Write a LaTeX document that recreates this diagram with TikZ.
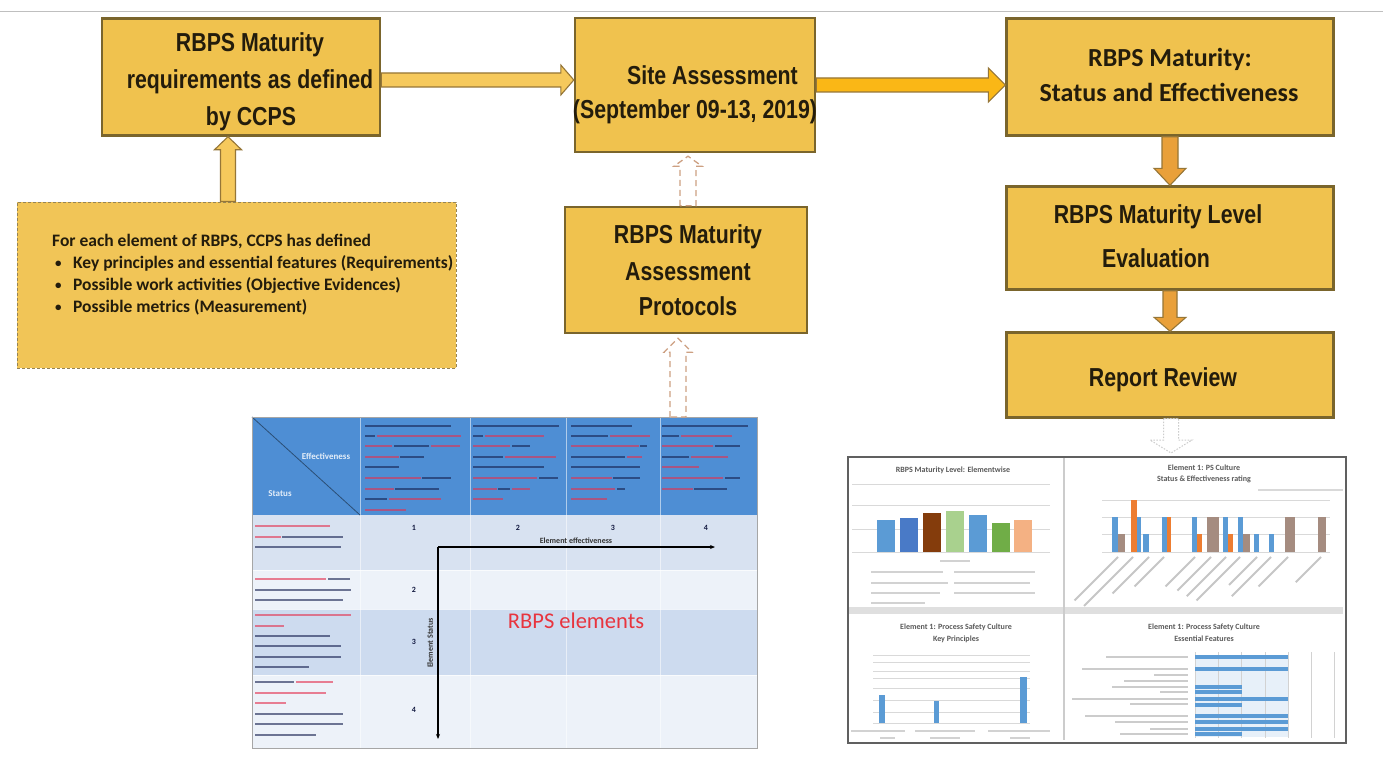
\documentclass[tikz,border=0pt]{standalone}
\usepackage{fontspec}
\setmainfont{Carlito}
\newfontfamily\narrowb[FakeStretch=0.82]{Liberation Sans}
\newfontfamily\calb{Carlito}
\usetikzlibrary{calc,arrows.meta}
\definecolor{boxfill}{RGB}{240,194,78}
\definecolor{boxline}{RGB}{122,101,44}
\definecolor{arrA}{RGB}{246,201,92}
\definecolor{arrB}{RGB}{250,183,22}
\definecolor{arrC}{RGB}{233,160,58}
\definecolor{arrline}{RGB}{150,118,55}
\definecolor{txt}{RGB}{35,28,12}
\definecolor{hdr}{RGB}{78,142,212}
\definecolor{rowA}{RGB}{216,226,241}
\definecolor{rowB}{RGB}{237,242,249}
\definecolor{tnavy}{RGB}{22,32,80}
\definecolor{tred}{RGB}{228,48,78}
\definecolor{rbred}{RGB}{232,52,62}
\definecolor{cblue}{RGB}{91,155,213}
\definecolor{cblue2}{RGB}{68,114,196}
\definecolor{cbrown}{RGB}{132,60,12}
\definecolor{cgreenl}{RGB}{169,209,142}
\definecolor{cgreen}{RGB}{112,173,71}
\definecolor{cpeach}{RGB}{244,177,131}
\definecolor{corange}{RGB}{237,125,49}
\definecolor{cgb}{RGB}{165,140,128}
\definecolor{dashbr}{RGB}{205,160,130}
\definecolor{ctxt}{RGB}{90,90,90}
\tikzset{
  box/.style={draw=boxline,line width=2.4pt,fill=boxfill,inner sep=0pt},
  bt/.style={font=\narrowb\bfseries\fontsize{26}{30}\selectfont,text=txt,inner sep=0pt,anchor=base},
  ct/.style={font=\calb\bfseries\fontsize{26}{30}\selectfont,text=txt,inner sep=0pt,anchor=base},
  dt/.style={font=\calb\bfseries\fontsize{17.5}{21}\selectfont,text=txt,inner sep=0pt,anchor=base west},
  blk/.style={line width=1.1pt,draw=arrline,line join=miter},
  hollow/.style={draw=dashbr,line width=1.3pt,dash pattern=on 6pt off 4pt,fill=white},
  tbar/.style={line width=2.6pt,opacity=.6},
  cbar/.style={line width=2pt,draw=gray!45},
  chtitle/.style={font=\calb\bfseries\fontsize{8}{9}\selectfont,text=ctxt,inner sep=0pt,anchor=base},
  tsmall/.style={font=\calb\bfseries\fontsize{8}{9}\selectfont,text=tnavy!80!black,inner sep=0pt,anchor=base}
}
\newcommand\harr[6]{\draw[#6] ($(#1)+(0,-#3)$) -- ($(#2)+(-#5,-#3)$) -- ($(#2)+(-#5,-#4)$) -- (#2) -- ($(#2)+(-#5,#4)$) -- ($(#2)+(-#5,#3)$) -- ($(#1)+(0,#3)$) -- cycle;}
\newcommand\darr[6]{\draw[#6] ($(#1)+(-#3,0)$) -- ($(#2)+(-#3,-#5)$) -- ($(#2)+(-#4,-#5)$) -- (#2) -- ($(#2)+(#4,-#5)$) -- ($(#2)+(#3,-#5)$) -- ($(#1)+(#3,0)$) -- cycle;}
\newcommand\uarr[6]{\draw[#6] ($(#1)+(-#3,0)$) -- ($(#2)+(-#3,#5)$) -- ($(#2)+(-#4,#5)$) -- (#2) -- ($(#2)+(#4,#5)$) -- ($(#2)+(#3,#5)$) -- ($(#1)+(#3,0)$) -- cycle;}
\begin{document}
\begin{tikzpicture}[x=1pt,y=-1pt]
\useasboundingbox (0,0) rectangle (1383,765);
\fill[white] (0,0) rectangle (1383,765);
\draw[gray!50,line width=1pt] (0,12) -- (1383,12);

% ---------- boxes ----------
\node[box,minimum width=278pt,minimum height=117pt] (b1) at (241,77) {};
\node[box,minimum width=240pt,minimum height=134pt] (b2) at (695,85) {};
\node[box,minimum width=327pt,minimum height=117pt] (b3) at (1170,77) {};
\node[box,minimum width=327pt,minimum height=103pt] (b4) at (1170,238) {};
\node[box,minimum width=327pt,minimum height=85pt] (b5) at (1170,375) {};
\node[box,minimum width=242pt,minimum height=126pt] (b6) at (686,270) {};
\node[draw=boxline!80,fill=boxfill!95!white,line width=1pt,dash pattern=on 3pt off 2pt,minimum width=439pt,minimum height=166pt,inner sep=0pt] (b7) at (236.5,285) {};

\node[bt] (b1a) at (250,52) {RBPS Maturity};
\node[bt] (b1b) at (250,89) {requirements as defined};
\node[bt] (b1c) at (251,125) {by CCPS};
\node[bt,anchor=base east] (b2a) at (798,85) {Site Assessment};
\node[bt] (b2b) at (695,118) {(September 09-13, 2019)};
\node[ct] (b3a) at (1170,67) {RBPS Maturity:};
\node[ct] (b3b) at (1169,102) {Status and Effectiveness};
\node[bt] (b4a) at (1158,223) {RBPS Maturity Level};
\node[bt] (b4b) at (1156,267) {Evaluation};
\node[bt] (b5a) at (1163,386) {Report Review};
\node[bt] (b6a) at (688,243) {RBPS Maturity};
\node[bt] (b6b) at (688,280) {Assessment};
\node[bt] (b6c) at (688,315) {Protocols};

\node[dt] (b7a) at (52,246) {For each element of RBPS, CCPS has defined};
\node[dt] (b7b) at (73,268) {Key principles and essential features (Requirements)};
\node[dt] (b7c) at (73,290) {Possible work activities (Objective Evidences)};
\node[dt] (b7d) at (73,312) {Possible metrics (Measurement)};
\foreach \yy/\nm in {268/p1,290/p2,312/p3}{\node[dt,font=\calb\bfseries\fontsize{13}{15}\selectfont] (\nm) at (55,\yy-1) {\textbullet};}

% ---------- solid block arrows ----------
\coordinate (y80) at (0,80);
\coordinate (y85) at (0,85);
\coordinate (x228) at (228,0);
\coordinate (x1170) at (1170,0);
\coordinate (a1s) at (b1.east |- y80);
\coordinate (a1e) at (b2.west |- y80);
\harr{a1s}{a1e}{7}{15}{13}{blk,fill=arrA}
\coordinate (a2s) at (b2.east |- y85);
\coordinate (a2e) at (b3.west |- y85);
\harr{a2s}{a2e}{7}{17}{17}{blk,fill=arrB}
\coordinate (a3s) at (b7.north -| x228);
\coordinate (a3e) at (b1.south -| x228);
\uarr{a3s}{a3e}{7.5}{13.5}{13}{blk,fill=arrA}
\coordinate (a4s) at (b3.south -| x1170);
\coordinate (a4e) at (b4.north -| x1170);
\darr{a4s}{a4e}{8}{16}{17}{blk,fill=arrC}
\coordinate (a5s) at (b4.south -| x1170);
\coordinate (a5e) at (b5.north -| x1170);
\darr{a5s}{a5e}{7}{16}{14}{blk,fill=arrC}

% ---------- table ----------
\fill[hdr] (252,417) rectangle (757,515);
\fill[rowA] (252,515) rectangle (757,570);
\fill[rowB] (252,570) rectangle (757,609);
\fill[rowA!92!hdr] (252,609) rectangle (757,675);
\fill[rowB] (252,675) rectangle (757,748);
\foreach \xx in {360,470,566,660}{\draw[white,opacity=.55,line width=.8pt] (\xx,417) -- (\xx,748);}
\foreach \yy in {570,609,675}{\draw[white,opacity=.7,line width=.8pt] (252,\yy) -- (757,\yy);}
\draw[hdr!55!black,line width=.8pt] (252,417) -- (360,515);
\node[font=\calb\bfseries\fontsize{9}{10}\selectfont,text=white!85!hdr,inner sep=0pt] (teff) at (326,456) {Effectiveness};
\node[font=\calb\bfseries\fontsize{9}{10}\selectfont,text=white!85!hdr,inner sep=0pt] (tsta) at (280,494) {Status};
% header fake text (illegible small print)
\foreach \xa/\xb/\yy/\cc in {
 365/451/426/tnavy, 365/375/436/tnavy, 377/461/436/tred, 365/392/446/tred, 394/429/446/tnavy, 431/460/446/tred,
 365/399/457/tred, 400/424/457/tnavy, 365/399/467/tnavy, 365/421/478/tred, 422/451/478/tnavy,
 365/394/489/tred, 395/439/489/tnavy, 365/387/499/tnavy, 389/441/499/tred, 365/406/510/tred,
 473/559/426/tnavy, 473/483/436/tnavy, 485/544/436/tred, 473/510/446/tred, 512/530/446/tnavy,
 473/503/457/tnavy, 505/556/457/tred, 473/544/467/tnavy, 473/537/478/tred, 539/558/478/tnavy,
 473/497/489/tred, 498/510/489/tnavy, 512/530/489/tred, 473/503/499/tred,
 571/632/426/tnavy, 571/608/436/tnavy, 610/650/436/tred, 571/639/446/tred, 640/647/446/tnavy,
 571/625/457/tnavy, 627/642/457/tred, 571/640/467/tnavy, 571/612/478/tred, 613/640/478/tnavy,
 571/615/489/tred, 617/625/489/tnavy, 571/607/499/tred,
 662/748/426/tnavy, 662/679/436/tnavy, 681/732/436/tred, 662/713/446/tred, 715/740/446/tnavy,
 662/689/457/tnavy, 691/728/457/tred, 662/699/467/tred, 662/723/478/tred, 725/740/478/tnavy,
 662/693/489/tred, 694/727/489/tnavy}
 {\draw[tbar,\cc] (\xa,\yy) -- (\xb,\yy);}
% first column fake text
\foreach \xa/\xb/\yy/\cc in {
 255/330/526/tred, 255/281/537/tred, 282/343/537/tnavy, 255/341/547/tnavy,
 255/326/579/tred, 328/350/579/tnavy, 255/351/590/tnavy, 255/343/600/tnavy,
 255/351/615/tred, 255/284/626/tred, 255/330/636/tnavy, 255/341/646/tnavy, 255/341/657/tnavy, 255/309/667/tnavy,
 255/294/682/tnavy, 296/333/682/tred, 255/326/693/tred, 255/286/703/tred, 255/343/714/tnavy, 255/343/724/tnavy, 255/316/735/tnavy}
 {\draw[tbar,\cc] (\xa,\yy) -- (\xb,\yy);}
\foreach \xx/\yy/\nn/\nm in {414/530/1/n1, 518/530/2/n2, 613/530/3/n3, 706/530/4/n4, 414/592/2/r2, 414/644/3/r3, 414/712/4/r4}
 {\node[tsmall] (\nm) at (\xx,\yy) {\nn};}
\node[draw=gray!70,line width=1.2pt,minimum width=505pt,minimum height=331pt,inner sep=0pt,anchor=north west] (tbl) at (252,417) {};
\coordinate (ax0) at (438,547);
\coordinate (axh) at (715,547);
\coordinate (axv) at (438,739);
\draw[line width=1.1pt,-{Stealth[length=5pt,width=4pt]}] (ax0) -- (axh);
\draw[line width=1.1pt,-{Stealth[length=5pt,width=4pt]}] (ax0) -- (axv);
\node[tsmall,text=black!80] (leff) at (576,543) {Element effectiveness};
\node[font=\calb\bfseries\fontsize{8}{9}\selectfont,text=black!80,inner sep=0pt,rotate=90] (lsta) at (430,643) {Element Status};
\node[font=\calb\fontsize{22.5}{26}\selectfont,text=rbred,inner sep=0pt] (rbe) at (576,621) {RBPS elements};

% ---------- dashed hollow arrows ----------
\coordinate (x688) at (688,0);
\coordinate (x678) at (678,0);
\coordinate (h1s) at (b6.north -| x688);
\coordinate (h1e) at ($(b2.south -| x688)+(0,3)$);
\uarr{h1s}{h1e}{8}{14}{10}{hollow}
\coordinate (h2s) at (tbl.north -| x678);
\coordinate (h2e) at ($(b6.south -| x678)+(0,4)$);
\uarr{h2s}{h2e}{8}{14}{14}{hollow}

% ---------- charts panel ----------
\node[draw=gray!75!black,line width=1.5pt,fill=white,minimum width=498pt,minimum height=286pt,inner sep=0pt,anchor=north west] (charts) at (847,456) {};
\coordinate (x1171) at (1171,0);
\coordinate (h3s) at (b5.south -| x1171);
\coordinate (h3e) at ($(charts.north -| x1171)+(0,-3)$);
\darr{h3s}{h3e}{7.5}{21}{13}{draw=gray!40,line width=1pt,dash pattern=on 1.5pt off 1.5pt,fill=white}
\fill[gray!25] (849,607) rectangle (1343,614);
\draw[gray!40,line width=1.2pt] (1064,458) -- (1064,740);
% Q1
\node[chtitle] (q1t) at (953,472) {RBPS Maturity Level: Elementwise};
\foreach \yy in {484,505,529,552}{\draw[gray!30,line width=.6pt] (852,\yy) -- (1050,\yy);}
\foreach \xa/\tp/\cc in {877/520/cblue, 900/518/cblue2!80!cblue, 923/513/cbrown, 946/511/cgreenl, 969/515/cblue, 992/523/cgreen, 1014/520/cpeach}
 {\fill[\cc] (\xa,\tp) rectangle ++(17.5,552-\tp);}
\foreach \xa/\xb/\yy in {871/943/572, 954/1035/572, 871/948/583, 954/1030/583, 871/940/593, 954/1035/593, 871/925/603, 940/970/561}
 {\draw[line width=2pt,draw=gray!35] (\xa,\yy) -- (\xb,\yy);}
% Q2
\node[chtitle] (q2t) at (1204,470) {Element 1: PS Culture};
\node[chtitle] (q2u) at (1204,481) {Status \& Effectiveness rating};
\draw[line width=1.5pt,draw=gray!30] (1258,490) -- (1343,490);
\foreach \yy in {500,517,534,552}{\draw[gray!30,line width=.6pt] (1102,\yy) -- (1330,\yy);}
\foreach \xa/\xb/\tp/\cc in {1112/1118/517/cblue, 1118/1125/534/cgb, 1131/1137/500/corange, 1137/1141/517/cblue, 1143/1149/534/cblue,
 1162/1167/517/cblue, 1167/1171/517/corange, 1192/1197/517/cblue, 1197/1202/534/corange, 1207/1219/517/cgb,
 1223/1228/517/cblue, 1228/1233/534/corange, 1238/1243/517/cblue, 1243/1250/534/cgb, 1254/1259/534/cblue,
 1269/1274/534/cblue, 1285/1295/517/cgb, 1318/1326/517/cgb}
 {\fill[\cc] (\xa,\tp) rectangle (\xb,552);}
\foreach \xx/\ll in {1118/62, 1133/70, 1149/52, 1164/42, 1195/42, 1211/48, 1226/56, 1240/62, 1257/40, 1271/56, 1288/42, 1321/36}
 {\draw[cbar] (\xx,557) -- ++(-0.7*\ll,0.7*\ll);}
% Q3
\node[chtitle] (q3t) at (956,629) {Element 1: Process Safety Culture};
\node[chtitle] (q3u) at (956,641) {Key Principles};
\foreach \yy in {655,662,671,678,688,700,712,723}{\draw[gray!30,line width=.6pt] (873,\yy) -- (1030,\yy);}
\fill[cblue] (879,695) rectangle (885,723);
\fill[cblue] (934,701) rectangle (939,723);
\fill[cblue] (1020,677) rectangle (1027,723);
\foreach \xa/\xb/\yy in {851/905/731, 915/975/731, 988/1050/731, 880/895/738, 930/960/738, 1010/1030/738}
 {\draw[line width=2pt,draw=gray!35] (\xa,\yy) -- (\xb,\yy);}
% Q4
\node[chtitle] (q4t) at (1204,629) {Element 1: Process Safety Culture};
\node[chtitle] (q4u) at (1204,641) {Essential Features};
\fill[cblue!15] (1195,655) rectangle (1288,737);
\foreach \xx in {1195,1218,1241,1265,1288,1311,1334}{\draw[gray!35,line width=.6pt] (\xx,652) -- (\xx,738);}
\foreach \yy/\xb in {657/1288, 669/1288, 687/1242, 692/1242, 699/1288, 704.5/1242, 716/1288, 722/1288, 729/1288, 734/1242}
 {\fill[cblue] (1195,\yy-2) rectangle (\xb,\yy+2);}
\foreach \xa/\yy in {1106/657, 1082/669, 1154/675, 1124/681, 1112/687, 1160/692, 1072/699, 1130/704, 1085/716, 1115/722, 1150/729, 1120/734}
 {\draw[line width=1.4pt,draw=gray!40] (\xa,\yy) -- (1188,\yy);}
\end{tikzpicture}
\end{document}
